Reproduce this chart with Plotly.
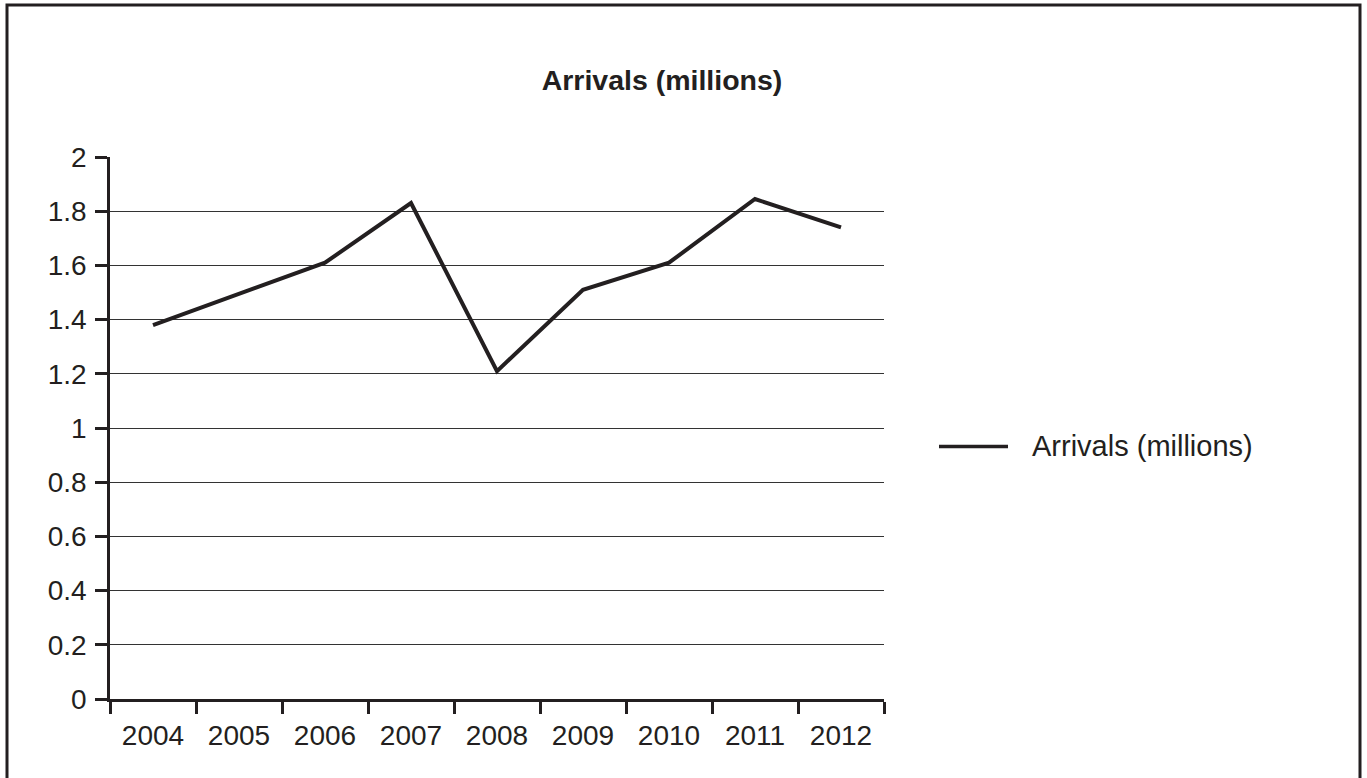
import plotly.graph_objects as go

years = ["2004", "2005", "2006", "2007", "2008", "2009", "2010", "2011", "2012"]
arrivals = [1.38, 1.495, 1.61, 1.83, 1.21, 1.51, 1.61, 1.845, 1.74]
series_name = "Arrivals (millions)"
y_ticks = [0, 0.2, 0.4, 0.6, 0.8, 1, 1.2, 1.4, 1.6, 1.8, 2]

INK = "#231f20"
FONT = "Liberation Sans, Arial, Helvetica, sans-serif"
W, H = 1367, 778
L, R, T, B = 110, 483, 157, 79
pw, ph = W - L - R, H - T - B

def px(x):
    return (x - L) / pw

def py(y):
    return (H - B - y) / ph

fig = go.Figure()
fig.add_trace(go.Scatter(
    x=years, y=arrivals, mode="lines", name=series_name,
    line=dict(color=INK, width=4), showlegend=False,
))

fig.update_layout(
    width=W, height=H,
    margin=dict(l=L, r=R, t=T, b=B, pad=0),
    paper_bgcolor="white", plot_bgcolor="white",
    font=dict(family=FONT, size=28, color=INK),
    title=dict(text="<b>Arrivals (millions)</b>", x=662 / W, xanchor="center",
               xref="container", y=1 - 80 / H, yanchor="middle", yref="container",
               font=dict(family=FONT, size=28.5, color=INK)),
    xaxis=dict(type="category", tickson="boundaries", range=[-0.5, 8.5],
               showgrid=False, showline=True, linecolor=INK, linewidth=2.5,
               ticks="outside", ticklen=12, tickwidth=2.5, tickcolor=INK,
               ticklabelstandoff=10,
               zeroline=False, tickfont=dict(size=28, color=INK)),
    yaxis=dict(range=[0, 2], tickvals=y_ticks, ticktext=[f"{v:g}" for v in y_ticks],
               showgrid=True, gridcolor="#333333", gridwidth=1.3,
               showline=True, linecolor=INK, linewidth=2.5,
               ticks="outside", ticklen=12, tickwidth=2.5, tickcolor=INK,
               ticklabelstandoff=3,
               zeroline=False, tickfont=dict(size=28, color=INK)),
    showlegend=False,
)

# outer frame
fig.add_shape(type="rect", xref="paper", yref="paper",
              x0=px(7), x1=px(1360), y0=py(810), y1=py(5),
              line=dict(color=INK, width=3), layer="below")

# legend entry
ly = 446.5
fig.add_shape(type="line", xref="paper", yref="paper",
              x0=px(939), x1=px(1008), y0=py(ly), y1=py(ly),
              line=dict(color=INK, width=3.5))
fig.add_annotation(text=series_name, xref="paper", yref="paper",
                   x=px(1030), y=py(ly), xanchor="left", yanchor="middle",
                   showarrow=False, font=dict(family=FONT, size=29, color=INK))

fig.write_html("out.html", config={"displayModeBar": False},
               post_script="document.body.style.margin='0';document.body.style.overflow='hidden';")
